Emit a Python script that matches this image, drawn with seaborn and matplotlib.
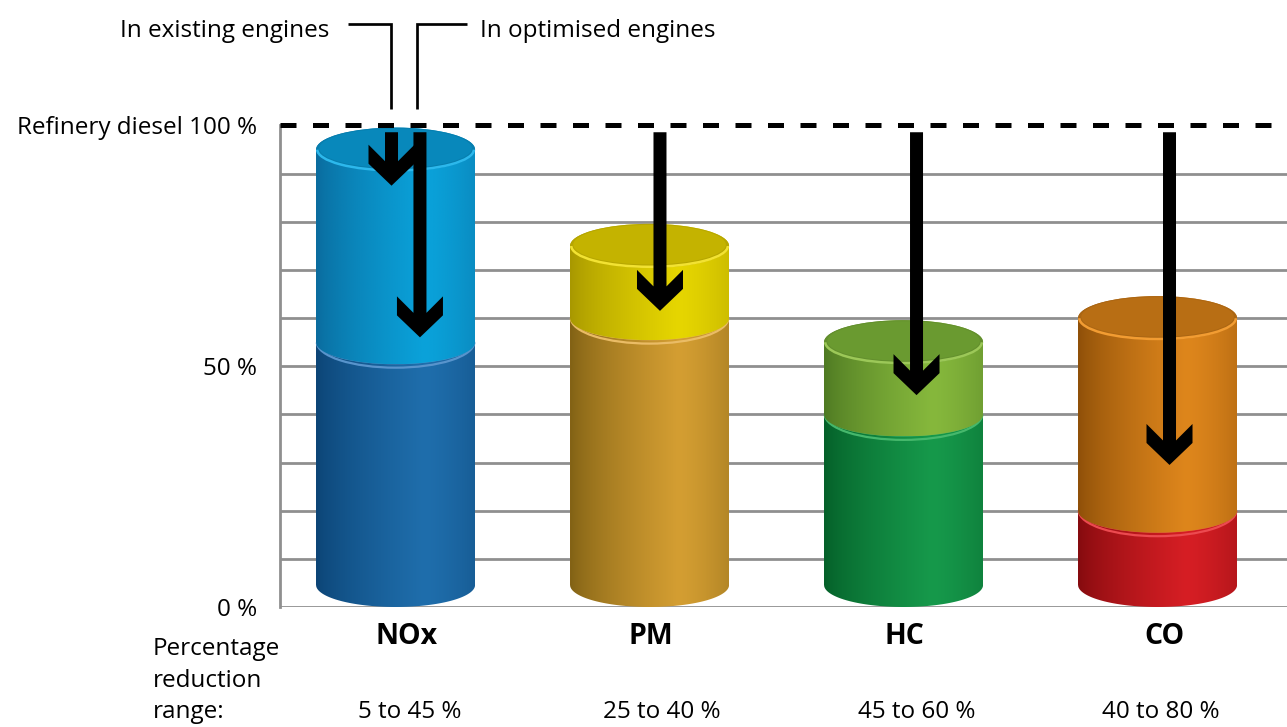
import numpy as np
import pandas as pd
import matplotlib
matplotlib.use("Agg")
import matplotlib.pyplot as plt
import matplotlib.transforms as mtransforms
from matplotlib.path import Path
from matplotlib.patches import Ellipse, Arc, Polygon
from matplotlib.lines import Line2D
from matplotlib.colors import to_rgb
import seaborn as sns

# Emission levels relative to refinery diesel (= 100 %)
pollutants = ["NOx", "PM", "HC", "CO"]
existing_engines = [95, 75, 55, 60]
optimised_engines = [55, 60, 40, 20]

# Arrows: which pollutant they sit on and the level their tip reaches (%)
arrow_pollutant = ["NOx", "NOx", "PM", "HC", "CO"]
arrow_tip = [87.5, 56, 61.5, 44, 29.5]

axis_ticks = [0, 50, 100]
axis_labels = ["0 %", "50 %", "Refinery diesel 100 %"]
range_caption = ["Percentage", "reduction", "range:"]

# ---- styling -------------------------------------------------------------
W, H = 1287, 727
sns.set_style("white")
plt.rcParams["font.family"] = ["Open Sans", "DejaVu Sans"]
plt.rcParams["text.color"] = "black"
TXT = 17.5

# (dark edge, lit side, lid, lid rim) per pollutant, upper then lower part
upper_cols = {
    "NOx": ("#0a6a9c", "#0aa2da", "#0888bb", "#2cb8ec"),
    "PM": ("#a69600", "#e6d600", "#c4b300", "#f2e232"),
    "HC": ("#4d7822", "#86b83c", "#6a9a30", "#9cc858"),
    "CO": ("#8c4e08", "#de861c", "#b86e14", "#f29c32"),
}
lower_cols = {
    "NOx": ("#0b4374", "#1f6eac", "#1a5f98", "#5894cc"),
    "PM": ("#7f6014", "#d49e32", "#c08a28", "#eabc66"),
    "HC": ("#045e28", "#16994b", "#128a40", "#46b86c"),
    "CO": ("#820a0e", "#d61e24", "#c0161c", "#ec4a50"),
}

fig = plt.figure(figsize=(W / 100, H / 100), dpi=100)
ax_left, ax_bottom, ax_top = 280, 607, 125.5
ax = fig.add_axes([ax_left / W, 1 - ax_bottom / H, (W - ax_left) / W,
                   (ax_bottom - ax_top) / H])

XLIM = (-0.455, -0.455 + (W - ax_left) / 254.0)
YLIM = (0, 100)
sx = (XLIM[1] - XLIM[0]) / (W - ax_left)      # data units per pixel (x)
sy = (YLIM[1] - YLIM[0]) / (ax_bottom - ax_top)  # data units per pixel (y)

LID = 22 * sy          # half height of the elliptical lids
BAR_W = 159 * sx

frame = pd.DataFrame({
    "pollutant": pollutants,
    "existing": existing_engines,
    "optimised": optimised_engines,
})
frame["lower"] = frame["optimised"] - LID
frame["upper"] = frame["existing"] - frame["optimised"]

common = dict(x="pollutant", order=pollutants, width=BAR_W, errorbar=None,
              linewidth=0, ax=ax)
sns.barplot(data=frame, y="lower", bottom=LID, color="#1a5f98", zorder=1, **common)
sns.barplot(data=frame, y="upper", bottom=frame["optimised"].to_numpy(),
            color="#0888bb", zorder=1, **common)
lower_bars, upper_bars = ax.containers[0], ax.containers[1]


def shade(t):
    rise = np.clip(t / 0.68, 0, 1) ** 0.7
    fall = 1 - 0.38 * np.clip((t - 0.68) / 0.32, 0, 1) ** 1.4
    return np.where(t < 0.68, rise, fall)


def cylinder(rect, cols, z):
    dark, lit, lid, rim = (np.array(to_rgb(c)) for c in cols)
    x0, w = rect.get_x(), rect.get_width()
    y0 = rect.get_y()
    y1 = y0 + rect.get_height()
    xc, a = x0 + w / 2, w / 2
    rect.set_facecolor(lid)

    t = np.linspace(np.pi, 2 * np.pi, 80)
    front = np.column_stack([xc + a * np.cos(t), y0 + LID * np.sin(t)])
    t2 = np.linspace(0, np.pi, 80)
    back = np.column_stack([xc + a * np.cos(t2), y1 + LID * np.sin(t2)])
    outline = Path(np.vstack([front, back, front[:1]]), closed=True)

    u = np.linspace(0, 1, 300)
    grad = dark + (lit - dark) * shade(u)[:, None]
    im = ax.imshow(grad[None, :, :], extent=[x0, x0 + w, y0 - LID, y1 + LID],
                   aspect="auto", origin="lower", interpolation="bilinear",
                   zorder=z)
    im.set_clip_path(outline, ax.transData)

    ax.add_patch(Ellipse((xc, y1), 2 * a, 2 * LID, facecolor=lid * 0.93,
                         edgecolor="none", zorder=z + 0.1))
    ax.add_patch(Ellipse((xc, y1 + 1.2 * sy), 2 * a * 0.96, 2 * LID * 0.9,
                         facecolor=lid, edgecolor="none", zorder=z + 0.15))
    ax.add_patch(Arc((xc, y1), 2 * a * 0.985, 2 * LID * 0.95, theta1=185,
                     theta2=355, color=rim, lw=1.8, zorder=z + 0.2))
    return xc, a


for i, name in enumerate(pollutants):
    xc, a = cylinder(lower_bars[i], lower_cols[name], 2)
    seam_y = upper_bars[i].get_y()
    ax.add_patch(Arc((xc, seam_y), 2 * a * 0.99, 2 * (LID + 3.5 * sy),
                     theta1=190, theta2=350, color=lower_cols[name][3],
                     lw=1.6, zorder=2.5))
    cylinder(upper_bars[i], upper_cols[name], 3)

# ---- axes, grid, reference line ------------------------------------------
ax.set_xlim(*XLIM)
ax.set_ylim(*YLIM)
ax.set_xticks(np.arange(len(pollutants)) + np.array([0.045, 0.006, 0.002, 0.026]))
ax.set_xticklabels(pollutants)
ax.set_yticks(range(0, 101, 10))
ax.set_yticklabels([axis_labels[axis_ticks.index(v)] if v in axis_ticks else ""
                    for v in range(0, 101, 10)])
ax.grid(axis="y", color="#8f8f8f", lw=2.0)
ax.yaxis.get_gridlines()[-1].set_visible(False)
ax.set_axisbelow(True)
for side in ["top", "right", "bottom"]:
    ax.spines[side].set_visible(False)
ax.spines["left"].set_color("#8f8f8f")
ax.spines["left"].set_linewidth(2.0)
ax.tick_params(axis="y", length=0, pad=16.5, labelsize=TXT, labelcolor="black")
ax.tick_params(axis="x", length=0, pad=11, labelsize=20.5, labelcolor="black")
for lab in ax.get_xticklabels():
    lab.set_fontweight("bold")
ax.set_xlabel("")
ax.set_ylabel("")

ax.axhline(100, color="black", lw=3.6, ls=(0, (3.2, 3.3)), zorder=5,
           clip_on=False)

# ---- arrows ---------------------------------------------------------------
arrow_shift = [-0.016, 0.096, 0.041, 0.051, 0.047]
shape = [(-6.5, None), (-6.5, 24.5), (-23, 41), (-23, 22), (0, 0),
         (23, 22), (23, 41), (6.5, 24.5), (6.5, None)]
shaft_top = 98.6
for name, tip, dx in zip(arrow_pollutant, arrow_tip, arrow_shift):
    xc = pollutants.index(name) + dx
    pts = [(xc + px * sx, shaft_top if py is None else tip + py * sy)
           for px, py in shape]
    ax.add_patch(Polygon(pts, closed=True, facecolor="black",
                         edgecolor="none", zorder=6, clip_on=False))

# ---- labels outside the plot ---------------------------------------------
def fx(x):
    return x / W


def fy(y):
    return 1 - y / H


bracket = dict(color="black", lw=1.95, solid_joinstyle="miter",
               solid_capstyle="butt", transform=fig.transFigure)
fig.add_artist(Line2D([fx(348), fx(390.7), fx(390.7)],
                      [fy(24.3), fy(24.3), fy(109)], **bracket))
fig.add_artist(Line2D([fx(416.7), fx(416.7), fx(467)],
                      [fy(109), fy(24.3), fy(24.3)], **bracket))
fig.text(fx(329), fy(37), "In existing engines", ha="right", va="baseline",
         fontsize=TXT, color="black")
fig.text(fx(480), fy(37), "In optimised engines", ha="left", va="baseline",
         fontsize=TXT, color="black")

for line, base in zip(range_caption, [655, 687, 718]):
    fig.text(fx(153), fy(base), line, ha="left", va="baseline", fontsize=TXT,
             color="black")

blend = mtransforms.blended_transform_factory(ax.transData, fig.transFigure)
range_shift = [0.057, 0.049, 0.053, 0.014]
for i, (e, o) in enumerate(zip(existing_engines, optimised_engines)):
    ax.text(i + range_shift[i], fy(718), f"{100 - e} to {100 - o} %",
            ha="center", va="baseline", fontsize=TXT, color="black",
            transform=blend)

fig.savefig("out.png", dpi=100)
